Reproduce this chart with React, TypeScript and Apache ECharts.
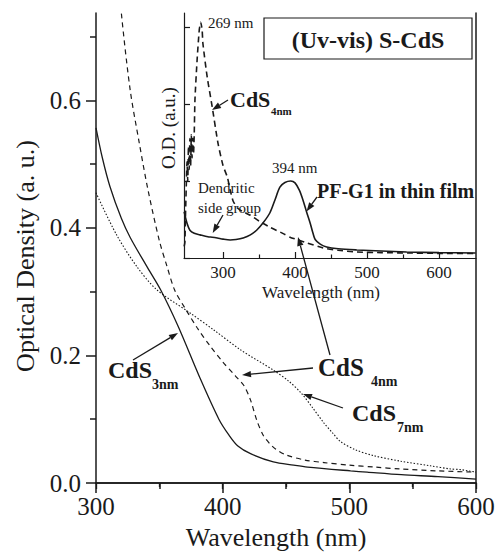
import React, { useEffect, useRef } from "react";
import * as echarts from "echarts";

const serif = "Liberation Serif";
const ink = "#1a1a1a";

// ---- main panel (CdS nanoparticles) ----
const cds3Wl = [300, 305, 311, 320, 327, 340, 351, 365, 382, 397, 405, 412, 422, 440, 456, 467, 501, 514, 541, 570, 600];
const cds3Od = [0.557, 0.51, 0.465, 0.415, 0.385, 0.34, 0.303, 0.245, 0.165, 0.1, 0.075, 0.058, 0.046, 0.033, 0.028, 0.025, 0.019, 0.017, 0.013, 0.01, 0.006];

const cds4Wl = [300, 310, 320, 327, 334, 341, 350, 356, 362, 370, 380, 390, 400, 410, 417, 422, 427, 432, 437, 442, 450, 465, 480, 500, 520, 540, 570, 600];
const cds4Od = [1.2, 0.95, 0.737, 0.616, 0.535, 0.46, 0.38, 0.34, 0.303, 0.275, 0.243, 0.215, 0.19, 0.168, 0.152, 0.13, 0.098, 0.075, 0.062, 0.053, 0.044, 0.036, 0.032, 0.028, 0.025, 0.022, 0.019, 0.017];

const cds7Wl = [300, 316, 332, 348, 374, 393, 414, 440, 452, 462, 471, 480, 487, 493, 505, 519, 541, 564, 580, 588, 594, 600];
const cds7Od = [0.455, 0.39, 0.34, 0.303, 0.267, 0.24, 0.209, 0.177, 0.16, 0.141, 0.118, 0.094, 0.078, 0.065, 0.052, 0.043, 0.034, 0.027, 0.022, 0.021, 0.019, 0.017];

const mainXTicks = [300, 400, 500, 600];
const mainYTicks = [0, 0.2, 0.4, 0.6];
const mainYMinor = [0.1, 0.3, 0.5, 0.7];

// ---- inset (UV-vis) ----
const filmWl = [246, 250, 254, 260, 268, 279, 285, 292, 300, 310, 318, 328, 338, 347, 356, 365, 372, 379, 386, 394, 400, 406, 411, 416, 421, 425, 428, 435, 444, 460, 486, 520, 555, 600, 651];
const filmOd = [0.6, 0.45, 0.36, 0.32, 0.3, 0.275, 0.27, 0.26, 0.245, 0.234, 0.24, 0.26, 0.3, 0.364, 0.46, 0.584, 0.75, 0.92, 0.98, 1.0, 0.975, 0.88, 0.753, 0.6, 0.455, 0.32, 0.24, 0.18, 0.143, 0.12, 0.104, 0.09, 0.078, 0.07, 0.064];

const insetCdsWl = [246, 247, 248, 249, 250, 251, 252, 253, 254, 255, 256, 257, 258, 259, 260, 261, 264, 267, 269, 271, 272, 278, 285, 293, 300, 306, 310, 314, 320, 328, 338, 350, 365, 383, 393, 404, 417, 439, 460, 486, 520, 556, 600, 651];
const insetCdsOd = [0.15, 0.2, 0.6, 0.95, 1.25, 1.0, 1.45, 1.15, 1.55, 1.2, 1.6, 1.3, 1.55, 1.35, 1.6, 2.05, 2.57, 2.96, 3.06, 2.96, 2.79, 2.35, 1.96, 1.49, 1.2, 1.05, 0.88, 0.74, 0.65, 0.6, 0.555, 0.48, 0.4, 0.32, 0.27, 0.235, 0.195, 0.13, 0.1, 0.078, 0.07, 0.065, 0.06, 0.058];

const insetXTicks = [300, 400, 500, 600];
const insetXMinor = [350, 450, 550];
const insetYTicks = [0, 1, 2, 3];

const pairs = (xs: number[], ys: number[]) => xs.map((x, i) => [x, ys[i]]);

function arrow(x1: number, y1: number, x2: number, y2: number, head = 9, half = 3.2) {
  const dx = x2 - x1;
  const dy = y2 - y1;
  const len = Math.sqrt(dx * dx + dy * dy);
  const ux = dx / len;
  const uy = dy / len;
  const bx = x2 - ux * head;
  const by = y2 - uy * head;
  return [
    {
      type: "line",
      z: 100,
      shape: { x1, y1, x2: bx, y2: by },
      style: { stroke: ink, lineWidth: 1.3 },
    },
    {
      type: "polygon",
      z: 100,
      shape: {
        points: [
          [x2, y2],
          [bx - uy * half, by + ux * half],
          [bx + uy * half, by - ux * half],
        ],
      },
      style: { fill: ink },
    },
  ];
}

function txt(text: string, x: number, y: number, size: number, opts: any = {}) {
  return {
    type: "text",
    z: 100,
    x,
    y,
    rotation: opts.rotation || 0,
    style: {
      text,
      fill: ink,
      fontFamily: serif,
      fontSize: size,
      fontWeight: opts.bold ? "bold" : "normal",
      align: opts.align || "left",
      verticalAlign: "middle",
    },
  };
}

export default function App() {
  const ref = useRef<HTMLDivElement>(null);
  useEffect(() => {
    document.body.style.margin = "0";
    const chart = echarts.init(ref.current!, null, { renderer: "svg" });
    const axisLine = { show: true, lineStyle: { color: ink, width: 1.5 } };
    const noSplit = { show: false };
    chart.setOption({
      animation: false,
      backgroundColor: "#ffffff",
      textStyle: { fontFamily: serif },
      grid: [
        { left: 96, top: 13, width: 380, height: 470 },
        { left: 184, top: 13, width: 292, height: 245, show: true, backgroundColor: "#ffffff", borderWidth: 0 },
      ],
      xAxis: [
        {
          type: "value", gridIndex: 0, position: "bottom", min: 300, max: 600, interval: 100,
          axisLine, splitLine: noSplit,
          axisTick: { show: true, length: 10, lineStyle: { color: ink, width: 1.5 } },
          minorTick: { show: true, splitNumber: 2, length: 6, lineStyle: { color: ink, width: 1.5 } },
          axisLabel: { color: ink, fontFamily: serif, fontSize: 25, margin: 11, customValues: mainXTicks },
        },
        {
          type: "value", gridIndex: 0, position: "top", min: 300, max: 600, interval: 100,
          axisLine, splitLine: noSplit,
          axisTick: { show: true, inside: true, length: 6, lineStyle: { color: ink, width: 1.3 } },
          minorTick: { show: true, splitNumber: 2, length: 4, lineStyle: { color: ink, width: 1.3 } },
          axisLabel: { show: false },
        },
        {
          type: "value", gridIndex: 1, position: "bottom", min: 245.8, max: 651.4,
          axisLine: { show: true, lineStyle: { color: ink, width: 1.2 } }, splitLine: noSplit,
          axisTick: { show: true, inside: true, length: 6, customValues: insetXTicks, lineStyle: { color: ink, width: 1.2 } },
          axisLabel: { color: ink, fontFamily: serif, fontSize: 17, margin: 6, customValues: insetXTicks },
        },
        {
          type: "value", gridIndex: 1, position: "bottom", min: 245.8, max: 651.4,
          axisLine: { show: false }, splitLine: noSplit,
          axisTick: { show: true, inside: true, length: 3.5, customValues: insetXMinor, lineStyle: { color: ink, width: 1.2 } },
          axisLabel: { show: false },
        },
      ],
      yAxis: [
        {
          type: "value", gridIndex: 0, position: "left", min: 0, max: 0.737,
          axisLine, splitLine: noSplit,
          axisTick: { show: true, length: 10, customValues: mainYTicks, lineStyle: { color: ink, width: 1.5 } },
          axisLabel: {
            color: ink, fontFamily: serif, fontSize: 25, margin: 15, customValues: mainYTicks,
            formatter: (v: number) => v.toFixed(1),
          },
        },
        {
          type: "value", gridIndex: 0, position: "left", min: 0, max: 0.737,
          axisLine: { show: false }, splitLine: noSplit,
          axisTick: { show: true, length: 6, customValues: mainYMinor, lineStyle: { color: ink, width: 1.5 } },
          axisLabel: { show: false },
        },
        {
          type: "value", gridIndex: 0, position: "right", min: 0, max: 0.737,
          axisLine, splitLine: noSplit, axisTick: { show: false }, axisLabel: { show: false },
        },
        {
          type: "value", gridIndex: 1, position: "left", min: 0, max: 3.18,
          axisLine: { show: true, lineStyle: { color: ink, width: 1.2 } }, splitLine: noSplit,
          axisTick: { show: true, inside: true, length: 6, customValues: insetYTicks, lineStyle: { color: ink, width: 1.2 } },
          axisLabel: { show: false },
        },
      ],
      series: [
        {
          type: "line", xAxisIndex: 0, yAxisIndex: 0, data: pairs(cds3Wl, cds3Od), showSymbol: false, smooth: 0.3,
          lineStyle: { color: ink, width: 1.3 },
        },
        {
          type: "line", xAxisIndex: 0, yAxisIndex: 0, data: pairs(cds4Wl, cds4Od), showSymbol: false, smooth: 0.3,
          lineStyle: { color: ink, width: 1.2, type: [5, 4] },
        },
        {
          type: "line", xAxisIndex: 0, yAxisIndex: 0, data: pairs(cds7Wl, cds7Od), showSymbol: false, smooth: 0.3,
          lineStyle: { color: ink, width: 1.1, type: [1.5, 1.8] },
        },
        {
          type: "line", xAxisIndex: 2, yAxisIndex: 3, data: pairs(filmWl, filmOd), showSymbol: false, smooth: 0.3,
          lineStyle: { color: ink, width: 1.6 },
        },
        {
          type: "line", xAxisIndex: 2, yAxisIndex: 3, data: pairs(insetCdsWl, insetCdsOd), showSymbol: false, smooth: 0.2,
          lineStyle: { color: ink, width: 1.6, type: [6, 4] },
        },
      ],
      graphic: [
        txt("Optical Density (a. u.)", 25, 256, 26, { rotation: Math.PI / 2, align: "center" }),
        txt("Wavelength (nm)", 276, 537, 26, { align: "center" }),
        txt("O.D. (a.u.)", 168, 128, 19, { rotation: Math.PI / 2, align: "center" }),
        txt("Wavelength (nm)", 321, 292, 17, { align: "center" }),
        txt("269 nm", 208, 23, 15),
        txt("394 nm", 272, 168, 15),
        txt("Dendritic", 198, 188, 15),
        txt("side group", 198, 208, 15),
        {
          type: "rect", z: 100,
          shape: { x: 264, y: 18, width: 208, height: 41 },
          style: { fill: "#ffffff", stroke: ink, lineWidth: 1.2 },
        },
        { ...txt("(Uv-vis) S-CdS", 368, 40, 24, { bold: true, align: "center" }), z: 101 },
        txt("PF-G1 in thin film", 317, 191, 20, { bold: true }),
        txt("CdS", 230, 99, 22, { bold: true }),
        txt("4nm", 271, 111, 11, { bold: true }),
        txt("CdS", 108, 370, 24, { bold: true }),
        txt("3nm", 152, 384, 14, { bold: true }),
        txt("CdS", 318, 367, 25, { bold: true }),
        txt("4nm", 371, 381, 14, { bold: true }),
        txt("CdS", 352, 413, 24, { bold: true }),
        txt("7nm", 397, 427, 14, { bold: true }),
        ...arrow(228, 100, 212, 110),
        ...arrow(223, 215, 212.7, 233),
        ...arrow(317, 197, 306.5, 211.5),
        ...arrow(133, 360, 178, 333),
        ...arrow(313, 368, 242, 375),
        ...arrow(330, 355, 298, 237),
        ...arrow(343, 408, 303, 394),
      ],
    });
    return () => chart.dispose();
  }, []);
  return <div ref={ref} style={{ position: "absolute", left: 0, top: 0, width: 499, height: 554 }} />;
}
